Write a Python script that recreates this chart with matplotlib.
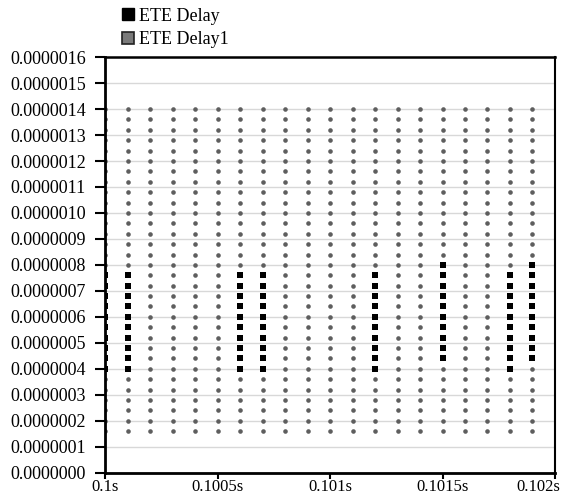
import numpy as np
import matplotlib
matplotlib.use("Agg")
import matplotlib.pyplot as plt
import matplotlib.transforms as mtransforms
from matplotlib.lines import Line2D
from matplotlib.ticker import FuncFormatter, MultipleLocator

plt.rcParams['font.family'] = ['Liberation Serif', 'DejaVu Serif']

# ---- data ----
series_names = ["ETE Delay", "ETE Delay1"]

# time columns (s) where ETE Delay1 samples occur
grey_times = [0.1, 0.1001, 0.1002, 0.1003, 0.1004, 0.1005, 0.1006, 0.1007,
              0.1008, 0.1009, 0.101, 0.1011, 0.1012, 0.1013, 0.1014, 0.1015,
              0.1016, 0.1017, 0.1018, 0.1019]
# delay levels (s) of ETE Delay1 at each time column
grey_levels = [1.6e-7, 2.0e-7, 2.4e-7, 2.8e-7, 3.2e-7, 3.6e-7, 4.0e-7, 4.4e-7,
               4.8e-7, 5.2e-7, 5.6e-7, 6.0e-7, 6.4e-7, 6.8e-7, 7.2e-7, 7.6e-7,
               8.0e-7, 8.4e-7, 8.8e-7, 9.2e-7, 9.6e-7, 1.0e-6, 1.04e-6, 1.08e-6,
               1.12e-6, 1.16e-6, 1.2e-6, 1.24e-6, 1.28e-6, 1.32e-6, 1.36e-6, 1.4e-6]

# ETE Delay columns and their min / max delay levels
black_times = [0.1, 0.1001, 0.1006, 0.1007, 0.1012, 0.1015, 0.1018, 0.1019]
black_min = [4.0e-7, 4.0e-7, 4.0e-7, 4.0e-7, 4.0e-7, 4.4e-7, 4.0e-7, 4.4e-7]
black_max = [7.6e-7, 7.6e-7, 7.6e-7, 7.6e-7, 7.6e-7, 8.0e-7, 7.6e-7, 8.0e-7]

x_ticks = [0.1, 0.1005, 0.101, 0.1015, 0.102]
x_tick_labels = ["0.1s", "0.1005s", "0.101s", "0.1015s", "0.102s"]

# ---- build point sets ----
gx, gy = np.meshgrid(np.array(grey_times), np.array(grey_levels))
gx = gx.ravel(); gy = gy.ravel()

bx, by = [], []
for t, lo, hi in zip(black_times, black_min, black_max):
    for lv in grey_levels:
        if lo - 1e-12 <= lv <= hi + 1e-12:
            bx.append(t); by.append(lv)

# ---- figure ----
fig = plt.figure(figsize=(5.62, 4.97), dpi=100)
ax = fig.add_axes([0.187, 0.049, 0.8005, 0.836])

ax.set_xlim(0.1, 0.102)
ax.set_ylim(0, 1.6e-6)

ax.yaxis.set_major_locator(MultipleLocator(1e-7))
ax.yaxis.set_major_formatter(FuncFormatter(lambda v, p: f"{v:.7f}"))
ax.set_xticks(x_ticks)
ax.set_xticklabels(x_tick_labels)

ax.grid(axis='y', color='#d8d8d8', linewidth=1.0)
ax.set_axisbelow(True)

ax.plot(gx, gy, linestyle='none', marker='o', markersize=3.3,
        color='#5e5e5e', markeredgewidth=0, zorder=2)
ax.plot(bx, by, linestyle='none', marker='s', markersize=4.0,
        color='black', markeredgewidth=0, zorder=3)

for s in ax.spines.values():
    s.set_color('black')
ax.spines['left'].set_linewidth(2.0)
ax.spines['bottom'].set_linewidth(2.0)
ax.spines['top'].set_linewidth(1.8)
ax.spines['right'].set_linewidth(1.5)

ax.tick_params(axis='y', direction='out', length=7, width=1.5, pad=7,
               labelsize=13, colors='black')
ax.tick_params(axis='x', direction='out', length=4, width=1.5, pad=0.5,
               labelsize=12, colors='black')

# last x label sits shifted left so it fits inside the figure
last = ax.get_xticklabels()[-1]
last.set_transform(last.get_transform() +
                   mtransforms.ScaledTranslation(-17 / 100, 0, fig.dpi_scale_trans))

handles = [
    Line2D([], [], linestyle='none', marker='s', markersize=8,
           markerfacecolor='black', markeredgecolor='black'),
    Line2D([], [], linestyle='none', marker='s', markersize=8,
           markerfacecolor='#7a7a7a', markeredgecolor='#222222', markeredgewidth=1.2),
]
fig.legend(handles, series_names, loc='upper left',
           bbox_to_anchor=(0.205, 0.999), frameon=False, fontsize=13,
           handlelength=0.6, handletextpad=0.3, labelspacing=0.35,
           borderaxespad=0.0)

fig.savefig("out.png", dpi=100)
